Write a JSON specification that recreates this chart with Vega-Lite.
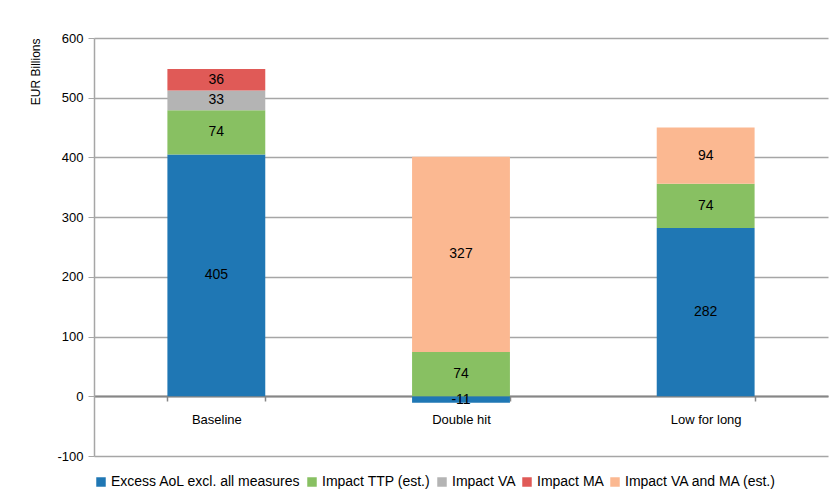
{
  "$schema": "https://vega.github.io/schema/vega-lite/v6.json",
  "width": 734,
  "height": 418,
  "autosize": {"type": "none"},
  "padding": {"left": 94, "top": 38, "right": 6, "bottom": 43},
  "background": "white",
  "config": {
    "font": "Liberation Sans",
    "view": {"stroke": null},
    "axis": {"labelFont": "Liberation Sans", "titleFont": "Liberation Sans", "labelColor": "#000", "titleColor": "#000"},
    "legend": {"labelFont": "Liberation Sans"}
  },
  "data": {
    "values": [
      {"scenario": "Baseline", "series": "Excess AoL excl. all measures", "value": 405, "ord": 1},
      {"scenario": "Baseline", "series": "Impact TTP (est.)", "value": 74, "ord": 2},
      {"scenario": "Baseline", "series": "Impact VA", "value": 33, "ord": 3},
      {"scenario": "Baseline", "series": "Impact MA", "value": 36, "ord": 4},
      {"scenario": "Double hit", "series": "Excess AoL excl. all measures", "value": -11, "ord": 1},
      {"scenario": "Double hit", "series": "Impact TTP (est.)", "value": 74, "ord": 2},
      {"scenario": "Double hit", "series": "Impact VA and MA (est.)", "value": 327, "ord": 5},
      {"scenario": "Low for long", "series": "Excess AoL excl. all measures", "value": 282, "ord": 1},
      {"scenario": "Low for long", "series": "Impact TTP (est.)", "value": 74, "ord": 2},
      {"scenario": "Low for long", "series": "Impact VA and MA (est.)", "value": 94, "ord": 5}
    ]
  },
  "encoding": {
    "x": {
      "field": "scenario", "type": "nominal", "sort": null,
      "scale": {"paddingInner": 0.6, "paddingOuter": 0.3},
      "axis": {"title": null, "labelAngle": 0, "labelFontSize": 13, "labelPadding": 12, "offset": -60, "tickBand": "extent", "domainColor": "#868686", "domainWidth": 2, "tickColor": "#868686", "tickWidth": 1.5, "tickSize": 5}
    }
  },
  "layer": [
    {
      "mark": {"type": "bar"},
      "encoding": {
        "y": {
          "field": "value", "type": "quantitative", "stack": "zero",
          "scale": {"domain": [-100, 600], "nice": false},
          "axis": {"title": "EUR Billions", "titleFontSize": 12, "titleAnchor": "end", "titlePadding": 14, "titleFontWeight": "normal", "labelFontSize": 13, "values": [-100, 0, 100, 200, 300, 400, 500, 600], "labelExpr": "replace(datum.label, '−', '-')", "gridColor": "#A6A6A6", "gridWidth": 1.5, "domainColor": "#A6A6A6", "domainWidth": 1.5, "tickColor": "#A6A6A6", "tickSize": 6, "labelPadding": 5}
        },
        "order": {"field": "ord", "type": "quantitative"},
        "color": {
          "field": "series", "type": "nominal",
          "scale": {
            "domain": ["Excess AoL excl. all measures", "Impact TTP (est.)", "Impact VA", "Impact MA", "Impact VA and MA (est.)"],
            "range": ["#1f77b4", "#88c062", "#b4b4b4", "#e05a57", "#fbb891"]
          },
          "legend": {"title": null, "orient": "bottom", "direction": "horizontal", "symbolType": "square", "symbolSize": 90, "symbolStrokeWidth": 0, "labelFontSize": 14, "labelLimit": 0, "columnPadding": 4, "offset": 19, "labelOffset": 3}
        }
      }
    },
    {
      "mark": {"type": "text", "fontSize": 14, "color": "#000", "font": "Liberation Sans", "baseline": "middle"},
      "encoding": {
        "y": {"field": "value", "type": "quantitative", "stack": "zero", "bandPosition": 0.5},
        "order": {"field": "ord", "type": "quantitative"},
        "detail": {"field": "series"},
        "text": {"field": "value", "type": "nominal"}
      }
    }
  ]
}
